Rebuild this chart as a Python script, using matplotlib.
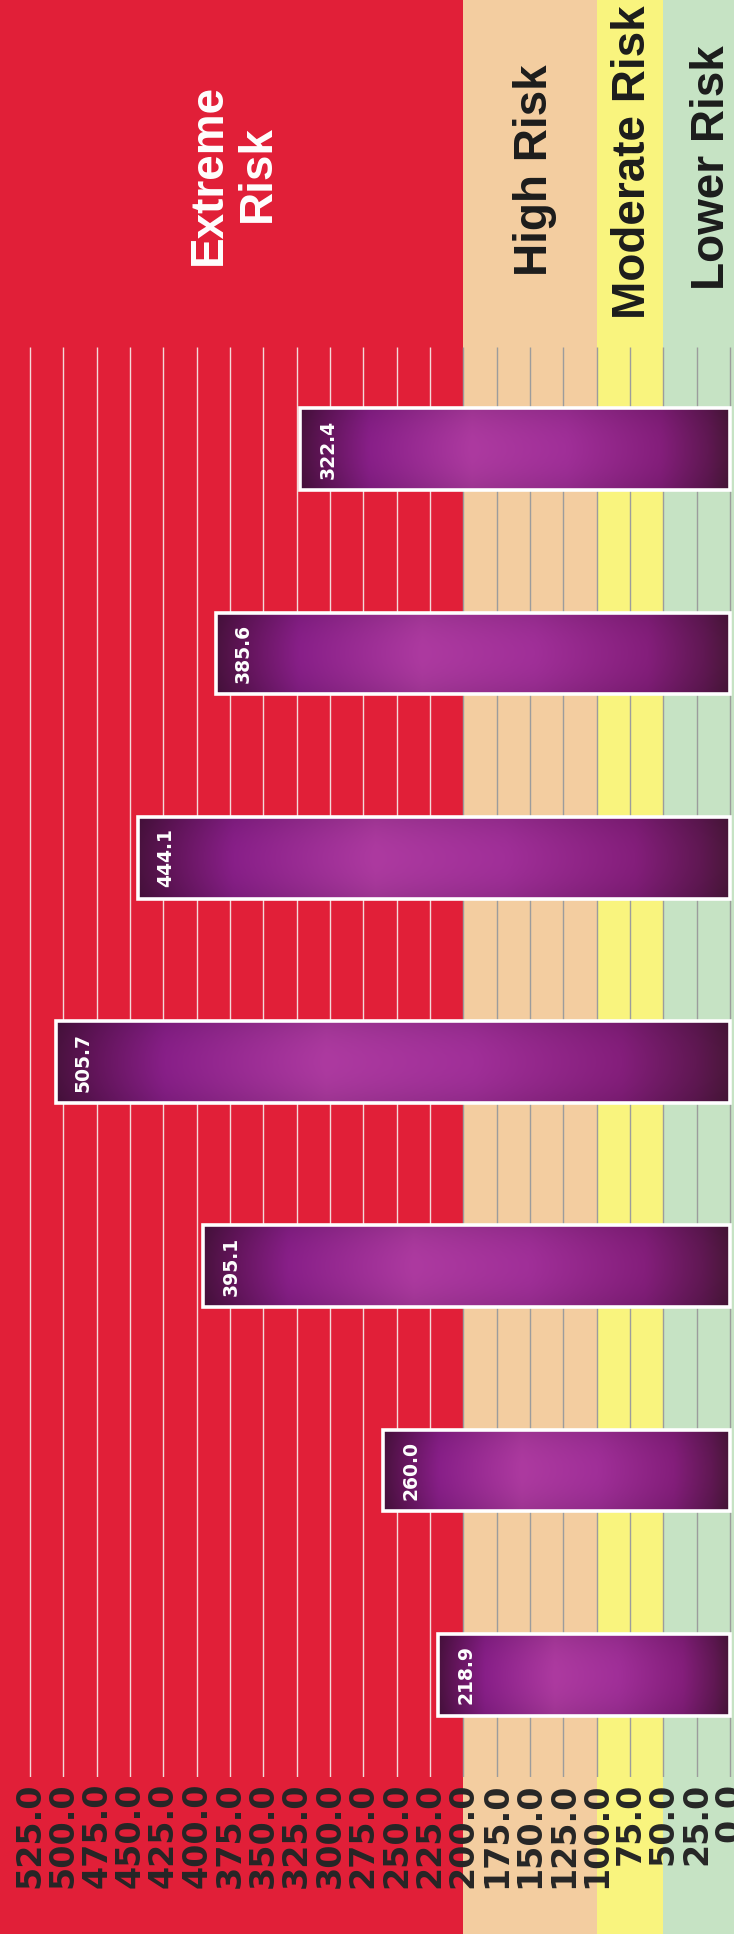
import numpy as np
import matplotlib
matplotlib.use('Agg')
import matplotlib.pyplot as plt
from matplotlib.colors import LinearSegmentedColormap

# ---- data (picture order, top to bottom) ----
values = [322.4, 385.6, 444.1, 505.7, 395.1, 260.0, 218.9]
value_labels = ['322.4', '385.6', '444.1', '505.7', '395.1', '260.0', '218.9']
tick_values = [0, 25, 50, 75, 100, 125, 150, 175, 200, 225, 250, 275,
               300, 325, 350, 375, 400, 425, 450, 475, 500, 525]
tick_labels = ['0.0', '25.0', '50.0', '75.0', '100.0', '125.0', '150.0', '175.0',
               '200.0', '225.0', '250.0', '275.0', '300.0', '325.0', '350.0',
               '375.0', '400.0', '425.0', '450.0', '475.0', '500.0', '525.0']
band_names = ['Extreme\nRisk', 'High Risk', 'Moderate Risk', 'Lower Risk']
band_low = [200, 100, 50, 0]
band_high = [None, 200, 100, 50]

# ---- styles ----
band_colors = ['#E11F38', '#F3CDA0', '#F9F47E', '#C6E3C4']
band_text_colors = ['white', '#1c1c1c', '#1c1c1c', '#1c1c1c']
band_text_x = [372.5, 146.0, 72.5, 13.5]
band_text_y = [174, 170, 162, 168]   # pixels from top
XL = (547.5, -3.0)
W, H = 734, 1934

fig = plt.figure(figsize=(W / 100, H / 100), dpi=100)

# background bands over the whole figure
bg = fig.add_axes([0, 0, 1, 1], zorder=0)
bg.set_xlim(*XL)
bg.set_ylim(0, 1)
bg.axis('off')
for lo, hi, c in zip(band_low, band_high, band_colors):
    lo_v = XL[1] if lo == 0 else lo
    hi_v = XL[0] if hi is None else hi
    bg.axvspan(lo_v, hi_v, color=c, lw=0)
for name, tx, ty, tc in zip(band_names, band_text_x, band_text_y, band_text_colors):
    bg.text(tx, 1 - ty / H, name, rotation=90, ha='center', va='center',
            multialignment='center', color=tc, fontsize=33, fontweight='bold',
            family='Liberation Sans', linespacing=1.15)

# main axes
top_px, bot_px = 347, 1777
ax = fig.add_axes([0, (H - bot_px) / H, 1, (bot_px - top_px) / H], zorder=1)
ax.set_facecolor('none')
for s in ax.spines.values():
    s.set_visible(False)

n = len(values)
grid_cols = ['#f4d8d8' if t > 200 else '#9c9c9c' for t in tick_values]
ax.vlines(tick_values, -0.5, n - 0.5, colors=grid_cols, linewidth=1.0, zorder=1)

cmap = LinearSegmentedColormap.from_list('barg', [
    (0.00, '#4a123f'), (0.06, '#64155c'), (0.16, '#881f88'),
    (0.40, '#ad3aa0'), (0.62, '#a02f98'), (0.84, '#841e7b'),
    (0.95, '#601853'), (1.00, '#4a173a')])
along = np.linspace(0, 1, 256)
across = np.linspace(-1, 1, 64)
rgb = cmap(along)[:, :3]
shade = 1 - 0.10 * across ** 2
img = shade[:, None, None] * rgb[None, :, :]

bh = 0.40
for i, v in enumerate(values):
    rect = ax.barh(i, v, height=bh, color='none', edgecolor='white',
                   linewidth=2.6, zorder=4)[0]
    im = ax.imshow(img, extent=(v, 0, i + bh / 2, i - bh / 2), aspect='auto',
                   interpolation='bilinear', zorder=3)
    im.set_clip_path(rect)
    ax.annotate(value_labels[i], xy=(v, i), xytext=(20, 0),
                textcoords='offset points', rotation=90, ha='center',
                va='center', color='white', fontsize=13.5, fontweight='bold',
                family='DejaVu Sans', zorder=5)

ax.set_xlim(*XL)
ax.set_ylim(n - 0.5, -0.5)
ax.set_aspect('auto')
ax.set_yticks([])
ax.set_xticks(tick_values)
ax.set_xticklabels(tick_labels, rotation=90, fontsize=24, fontweight='bold',
                   color='#262626', family='DejaVu Sans')
ax.tick_params(axis='x', length=0, pad=4)

fig.savefig('out.png', dpi=100)
